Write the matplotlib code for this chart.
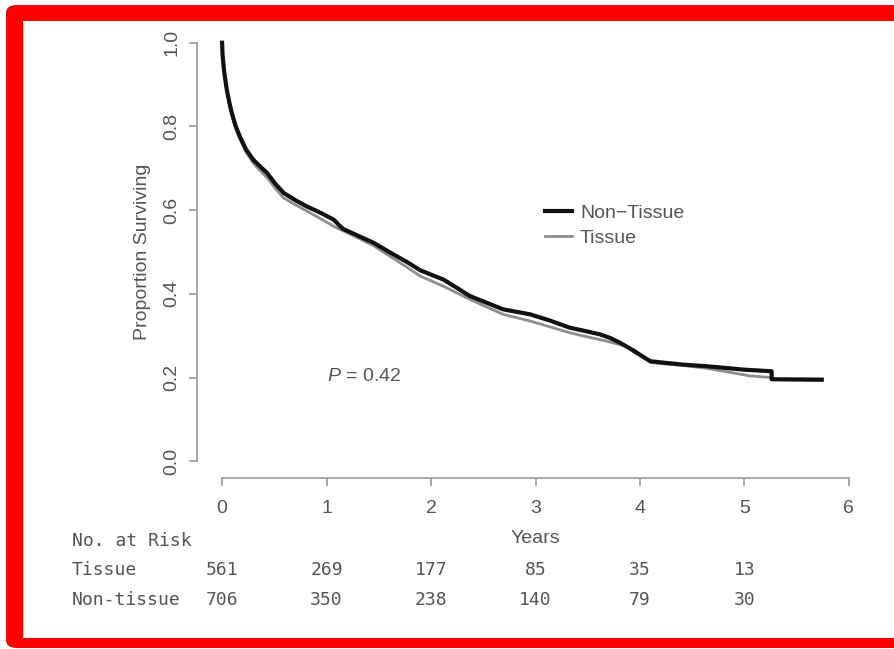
import matplotlib
matplotlib.use("Agg")
import matplotlib.pyplot as plt
from matplotlib.patches import Rectangle, FancyBboxPatch
from matplotlib.lines import Line2D
import matplotlib.transforms as mtransforms

# ---------------------------------------------------------------------------
# Data (Kaplan-Meier curves, years vs proportion)
# ---------------------------------------------------------------------------
nontissue_t = [0, 0.005, 0.02, 0.045, 0.07, 0.093, 0.13, 0.17, 0.23, 0.30, 0.37, 0.43,
               0.51, 0.59, 0.70, 0.81, 0.94, 1.07, 1.12, 1.16, 1.30, 1.45, 1.60, 1.77,
               1.90, 2.05, 2.12, 2.25, 2.37, 2.53, 2.69, 2.82, 2.95, 3.14, 3.33, 3.48,
               3.62, 3.72, 3.81, 3.90, 3.97, 4.04, 4.10, 4.25, 4.41, 4.64, 4.82, 4.99,
               5.26, 5.26, 5.74]
nontissue_s = [1.0, 0.97, 0.93, 0.888, 0.857, 0.832, 0.801, 0.776, 0.745, 0.72, 0.703, 0.689,
               0.663, 0.641, 0.624, 0.609, 0.594, 0.577, 0.564, 0.555, 0.539, 0.522, 0.500, 0.476,
               0.456, 0.441, 0.434, 0.414, 0.395, 0.379, 0.363, 0.357, 0.351, 0.336, 0.319, 0.311,
               0.303, 0.294, 0.283, 0.270, 0.259, 0.248, 0.239, 0.235, 0.231, 0.227, 0.223, 0.219,
               0.215, 0.196, 0.195]

tissue_t = [0, 0.005, 0.02, 0.045, 0.07, 0.093, 0.13, 0.17, 0.23, 0.30, 0.37, 0.43,
            0.51, 0.59, 0.70, 0.81, 0.94, 1.07, 1.25, 1.45, 1.68, 1.90, 2.12, 2.37,
            2.53, 2.69, 2.82, 2.95, 3.14, 3.33, 3.50, 3.68, 3.82, 3.94, 4.02, 4.10,
            4.25, 4.41, 4.64, 4.85, 5.05, 5.26, 5.26, 5.74]
tissue_s = [1.0, 0.97, 0.928, 0.885, 0.853, 0.828, 0.795, 0.77, 0.738, 0.712, 0.693, 0.678,
            0.652, 0.629, 0.613, 0.598, 0.580, 0.561, 0.540, 0.515, 0.478, 0.442, 0.418, 0.387,
            0.369, 0.351, 0.343, 0.335, 0.321, 0.307, 0.297, 0.287, 0.278, 0.267, 0.252, 0.236,
            0.232, 0.229, 0.222, 0.213, 0.204, 0.200, 0.195, 0.193]

risk_years = [0, 1, 2, 3, 4, 5]
risk_tissue = [561, 269, 177, 85, 35, 13]
risk_nontissue = [706, 350, 238, 140, 79, 30]

x_ticks = [0, 1, 2, 3, 4, 5, 6]
y_ticks = [0.0, 0.2, 0.4, 0.6, 0.8, 1.0]

SANS = "Liberation Sans"
MONO = "DejaVu Sans Mono"
TEXT_GREY = "#555555"
AXIS_GREY = "#a0a0a0"

plt.rcParams["font.family"] = SANS
plt.rcParams["mathtext.fontset"] = "custom"
plt.rcParams["mathtext.it"] = "Liberation Sans:italic"
plt.rcParams["mathtext.rm"] = "Liberation Sans"

W, H = 894, 649
fig = plt.figure(figsize=(W / 100, H / 100), dpi=100)

# red frame around the picture (open on the right side)
fig.patches.append(FancyBboxPatch((6 / W, 1 / H), 1.1, (H - 6) / H,
                                  boxstyle="round,pad=0,rounding_size=0.012",
                                  transform=fig.transFigure, facecolor="#ff0000",
                                  edgecolor="none", zorder=-10))
fig.patches.append(Rectangle((23 / W, 1 - 638 / H), 1.0, (638 - 21) / H,
                             transform=fig.transFigure, facecolor="white",
                             edgecolor="none", zorder=-9))

left, right, top, bottom = 197, 874, 26, 478
ax = fig.add_axes([left / W, 1 - bottom / H, (right - left) / W, (bottom - top) / H])
ax.set_facecolor("none")

ax.plot(tissue_t, tissue_s, color="#8e8e8e", lw=2.0, label="Tissue")
ax.plot(nontissue_t, nontissue_s, color="#111111", lw=3.0, label="Non\u2212Tissue")

ax.set_xlim(-0.24, 6.24)
ax.set_ylim(-0.04, 1.04)

for side in ["top", "right"]:
    ax.spines[side].set_visible(False)
ax.spines["left"].set_bounds(0, 1)
ax.spines["bottom"].set_bounds(0, 6)
for side in ["left", "bottom"]:
    ax.spines[side].set_color(AXIS_GREY)
    ax.spines[side].set_linewidth(1.3)

ax.set_xticks(x_ticks)
ax.set_xticklabels([str(v) for v in x_ticks])
ax.set_yticks(y_ticks)
ax.set_yticklabels([f"{v:.1f}" for v in y_ticks], rotation=90, va="center")
ax.tick_params(axis="both", colors=AXIS_GREY, labelcolor=TEXT_GREY, labelsize=14,
               length=6, width=1.3)
ax.tick_params(axis="x", pad=10)
ax.tick_params(axis="y", pad=6)

ax.set_ylabel("Proportion Surviving", fontsize=14, color=TEXT_GREY, labelpad=9)
ax.set_xlabel("Years", fontsize=14, color=TEXT_GREY, labelpad=9)

ax.text(1.0, 0.203, r"$P$ = 0.42", fontsize=14, color=TEXT_GREY, va="center", ha="left")

handles = [Line2D([], [], color="#111111", lw=3.0), Line2D([], [], color="#8e8e8e", lw=2.0)]
ax.legend(handles, ["Non\u2212Tissue", "Tissue"], loc="upper left",
          bbox_to_anchor=(0.514, 0.605), frameon=False, fontsize=14,
          handlelength=1.4, handletextpad=0.4, labelspacing=0.35,
          borderpad=0, borderaxespad=0, labelcolor=TEXT_GREY)

# number at risk table below the axis
trans = mtransforms.blended_transform_factory(ax.transData, fig.transFigure)
row_y = {"head": 1 - 541 / H, "tissue": 1 - 570 / H, "non": 1 - 600 / H}
fig.text(72 / W, row_y["head"], "No. at Risk", family=MONO, fontsize=13, color=TEXT_GREY,
         va="center", ha="left")
fig.text(72 / W, row_y["tissue"], "Tissue", family=MONO, fontsize=13, color=TEXT_GREY,
         va="center", ha="left")
fig.text(72 / W, row_y["non"], "Non-tissue", family=MONO, fontsize=13, color=TEXT_GREY,
         va="center", ha="left")
for yr, n_t, n_n in zip(risk_years, risk_tissue, risk_nontissue):
    ax.text(yr, row_y["tissue"], str(n_t), transform=trans, family=MONO, fontsize=13,
            color=TEXT_GREY, va="center", ha="center", clip_on=False)
    ax.text(yr, row_y["non"], str(n_n), transform=trans, family=MONO, fontsize=13,
            color=TEXT_GREY, va="center", ha="center", clip_on=False)

fig.savefig("out.png", dpi=100)
